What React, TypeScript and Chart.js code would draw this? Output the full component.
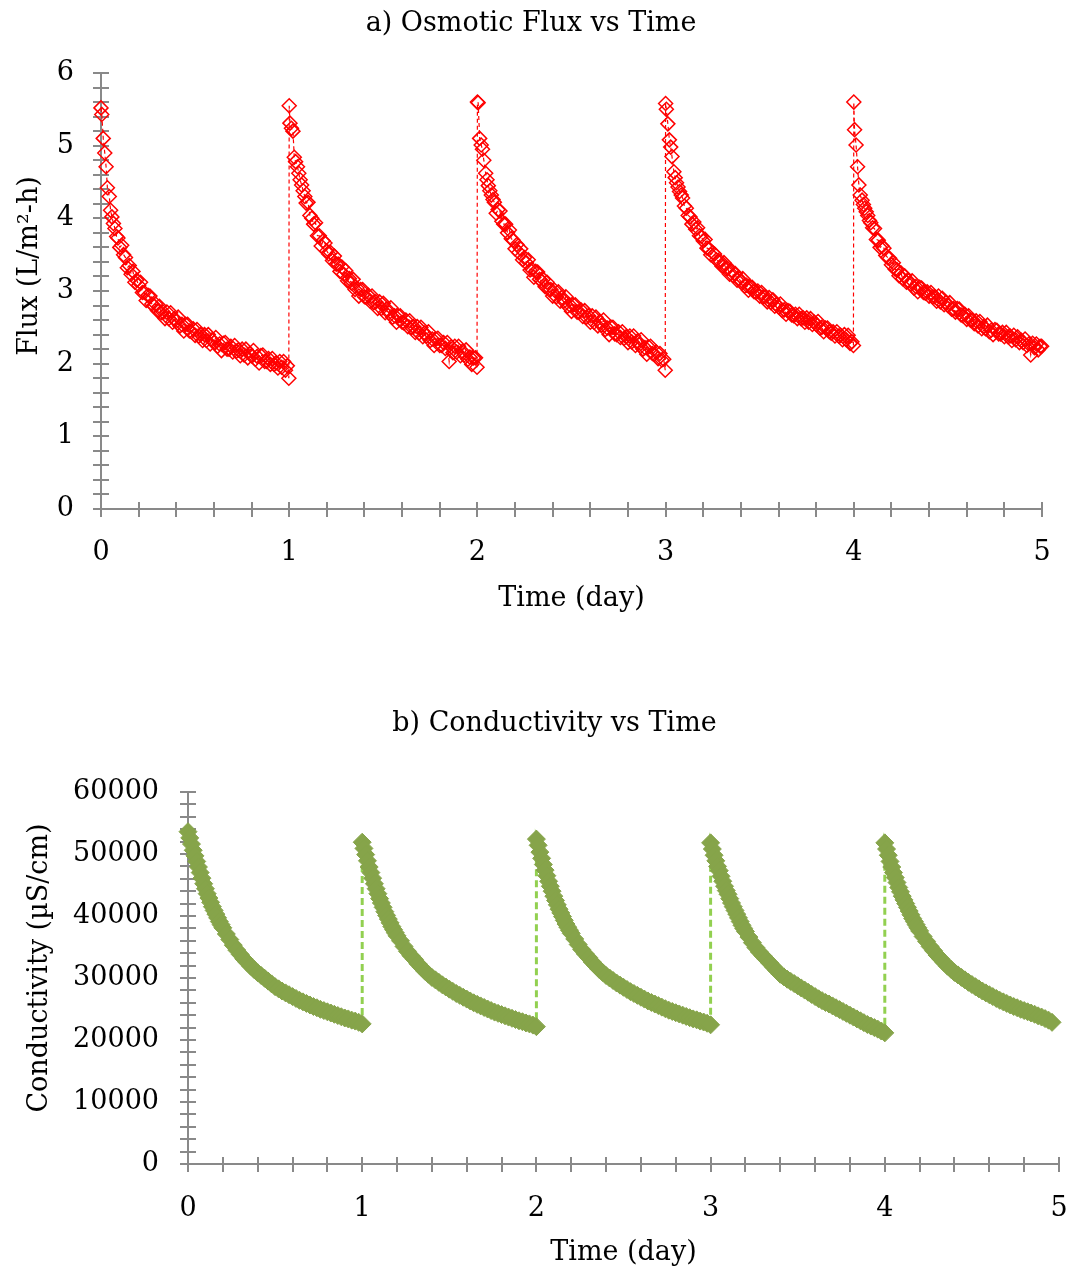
import { useEffect, useRef } from 'react';
import { Chart, registerables } from 'chart.js';

Chart.register(...registerables);

const FONT = "'DejaVu Serif', serif";
const AXIS_COLOR = '#898989';

// ---------- Chart a) Osmotic flux ----------
const fluxTitle = 'a) Osmotic Flux vs Time';
const fluxYTitle = 'Flux (L/m²-h)';
const xTitle = 'Time (day)';
const cycleStartDays = [0, 1, 2, 3, 4];

// sampling times inside each daily cycle (day)
const fluxLocalTimes = [
  0, 0.004, 0.012, 0.02, 0.027, 0.034, 0.044, 0.051, 0.058, 0.066, 0.074, 0.083,
  0.09, 0.1, 0.11, 0.12, 0.13, 0.14, 0.15, 0.16, 0.17, 0.18,
  0.19, 0.2, 0.21, 0.22, 0.23, 0.24, 0.25, 0.26, 0.27, 0.28,
  0.29, 0.3, 0.31, 0.32, 0.33, 0.34, 0.35, 0.36, 0.37, 0.38,
  0.39, 0.4, 0.41, 0.42, 0.43, 0.44, 0.45, 0.46, 0.47, 0.48,
  0.49, 0.5, 0.51, 0.52, 0.53, 0.54, 0.55, 0.56, 0.57, 0.58,
  0.59, 0.6, 0.61, 0.62, 0.63, 0.64, 0.65, 0.66, 0.67, 0.68,
  0.69, 0.7, 0.71, 0.72, 0.73, 0.74, 0.75, 0.76, 0.77, 0.78,
  0.79, 0.8, 0.81, 0.82, 0.83, 0.84, 0.85, 0.86, 0.87, 0.88,
  0.89, 0.9, 0.91, 0.92, 0.93, 0.94, 0.95, 0.96, 0.97, 0.98,
  0.99, 0.998,
];

const fluxDay1 = [
  5.52, 5.43, 5.10, 4.90, 4.71, 4.42, 4.30, 4.11, 4.02, 3.93, 3.86, 3.75,
  3.73, 3.60, 3.63, 3.50, 3.46, 3.32, 3.35, 3.23, 3.27, 3.12,
  3.15, 3.08, 3.12, 2.98, 2.98, 2.87, 2.94, 2.93, 2.82, 2.80,
  2.82, 2.73, 2.79, 2.70, 2.71, 2.62, 2.71, 2.62, 2.70, 2.57,
  2.62, 2.58, 2.64, 2.52, 2.54, 2.45, 2.54, 2.54, 2.45, 2.44,
  2.48, 2.39, 2.47, 2.38, 2.40, 2.32, 2.40, 2.32, 2.40, 2.27,
  2.33, 2.29, 2.36, 2.24, 2.27, 2.18, 2.28, 2.29, 2.20, 2.20,
  2.24, 2.16, 2.25, 2.17, 2.19, 2.11, 2.20, 2.12, 2.20, 2.08,
  2.14, 2.11, 2.18, 2.06, 2.10, 2.01, 2.11, 2.12, 2.03, 2.03,
  2.07, 1.99, 2.07, 1.99, 2.01, 1.94, 2.03, 1.95, 2.03, 1.91,
  1.97, 1.80,
];
const fluxDay2 = [
  5.55, 5.31, 5.24, 5.20, 4.84, 4.78, 4.71, 4.62, 4.53, 4.46, 4.38, 4.30,
  4.21, 4.22, 4.04, 4.00, 3.92, 3.94, 3.76, 3.76, 3.62, 3.69,
  3.66, 3.55, 3.51, 3.53, 3.42, 3.48, 3.37, 3.37, 3.27, 3.33,
  3.23, 3.28, 3.14, 3.17, 3.11, 3.16, 3.02, 3.04, 2.93, 3.02,
  3.02, 2.92, 2.91, 2.94, 2.86, 2.93, 2.84, 2.85, 2.76, 2.85,
  2.76, 2.83, 2.70, 2.75, 2.70, 2.77, 2.64, 2.66, 2.57, 2.66,
  2.66, 2.57, 2.56, 2.60, 2.51, 2.59, 2.50, 2.51, 2.43, 2.51,
  2.42, 2.50, 2.37, 2.42, 2.38, 2.44, 2.32, 2.34, 2.25, 2.34,
  2.35, 2.25, 2.25, 2.29, 2.21, 2.29, 2.03, 2.23, 2.15, 2.24,
  2.16, 2.24, 2.11, 2.17, 2.12, 2.19, 2.06, 2.09, 1.99, 2.08,
  2.08, 1.95,
];
const fluxDay3 = [
  5.60, 5.59, 5.10, 5.01, 4.95, 4.80, 4.62, 4.53, 4.45, 4.38, 4.32, 4.26,
  4.22, 4.07, 4.12, 4.10, 3.96, 3.92, 3.92, 3.80, 3.84, 3.72,
  3.70, 3.58, 3.64, 3.53, 3.58, 3.43, 3.46, 3.39, 3.43, 3.29,
  3.30, 3.19, 3.27, 3.26, 3.16, 3.14, 3.16, 3.06, 3.12, 3.02,
  3.02, 2.93, 3.01, 2.92, 2.99, 2.86, 2.91, 2.86, 2.92, 2.79,
  2.81, 2.72, 2.81, 2.81, 2.71, 2.71, 2.74, 2.65, 2.73, 2.64,
  2.66, 2.57, 2.66, 2.57, 2.64, 2.52, 2.58, 2.53, 2.60, 2.47,
  2.49, 2.40, 2.50, 2.50, 2.41, 2.40, 2.44, 2.36, 2.44, 2.35,
  2.37, 2.29, 2.38, 2.30, 2.38, 2.25, 2.31, 2.26, 2.33, 2.20,
  2.22, 2.13, 2.23, 2.24, 2.14, 2.13, 2.16, 2.07, 2.14, 2.05,
  2.06, 1.91,
];
const fluxDay4 = [
  5.58, 5.50, 5.30, 5.08, 4.98, 4.85, 4.64, 4.56, 4.49, 4.43, 4.37, 4.32,
  4.28, 4.17, 4.14, 4.04, 4.02, 3.92, 3.95, 3.85, 3.87, 3.76,
  3.75, 3.69, 3.71, 3.59, 3.58, 3.50, 3.53, 3.51, 3.43, 3.41,
  3.41, 3.34, 3.39, 3.31, 3.31, 3.23, 3.28, 3.21, 3.24, 3.15,
  3.17, 3.13, 3.17, 3.07, 3.08, 3.01, 3.06, 3.05, 2.99, 2.98,
  3.00, 2.93, 2.98, 2.92, 2.92, 2.85, 2.91, 2.84, 2.88, 2.79,
  2.81, 2.78, 2.82, 2.73, 2.74, 2.68, 2.73, 2.72, 2.67, 2.66,
  2.68, 2.62, 2.68, 2.62, 2.63, 2.57, 2.63, 2.57, 2.62, 2.54,
  2.57, 2.54, 2.58, 2.49, 2.50, 2.44, 2.49, 2.49, 2.44, 2.42,
  2.44, 2.38, 2.44, 2.38, 2.39, 2.33, 2.40, 2.33, 2.39, 2.28,
  2.30, 2.25,
];
const fluxDay5 = [
  5.60, 5.22, 5.01, 4.71, 4.46, 4.32, 4.25, 4.19, 4.14, 4.09, 4.04, 3.97,
  3.94, 3.87, 3.86, 3.71, 3.70, 3.60, 3.62, 3.59, 3.49, 3.46,
  3.45, 3.36, 3.39, 3.30, 3.29, 3.21, 3.25, 3.17, 3.21, 3.12,
  3.14, 3.10, 3.14, 3.04, 3.06, 2.99, 3.05, 3.04, 2.98, 2.97,
  2.99, 2.93, 2.98, 2.92, 2.92, 2.86, 2.93, 2.85, 2.90, 2.81,
  2.84, 2.80, 2.84, 2.75, 2.76, 2.71, 2.76, 2.75, 2.67, 2.66,
  2.68, 2.61, 2.66, 2.60, 2.60, 2.55, 2.59, 2.52, 2.58, 2.48,
  2.51, 2.48, 2.53, 2.44, 2.46, 2.40, 2.47, 2.46, 2.41, 2.41,
  2.43, 2.37, 2.43, 2.37, 2.38, 2.32, 2.39, 2.33, 2.37, 2.29,
  2.32, 2.29, 2.34, 2.25, 2.27, 2.12, 2.28, 2.22, 2.27, 2.19,
  2.24, 2.24,
];

// ---------- Chart b) Conductivity ----------
const condTitle = 'b) Conductivity vs Time';
const condYTitle = 'Conductivity (µS/cm)';

const condLocalTimes = [
  0, 0.01, 0.02, 0.03, 0.04, 0.05, 0.06, 0.07, 0.08, 0.09, 0.1,
  0.11, 0.12, 0.13, 0.14, 0.15, 0.16, 0.17, 0.18, 0.19, 0.2,
  0.22, 0.24, 0.26, 0.28, 0.3, 0.32, 0.34, 0.36, 0.38, 0.4,
  0.42, 0.44, 0.46, 0.48, 0.5, 0.52, 0.54, 0.56, 0.58, 0.6,
  0.62, 0.64, 0.66, 0.68, 0.7, 0.72, 0.74, 0.76, 0.78, 0.8,
  0.82, 0.84, 0.86, 0.88, 0.9, 0.92, 0.94, 0.96, 0.98, 1.0,
];

const condDay1 = [
  53600, 52600, 51600, 50600, 49700, 48800, 47900, 47000, 46100, 45200, 44400,
  43600, 42900, 42200, 41500, 40900, 40300, 39700, 39100, 38600, 38100,
  37100, 36200, 35300, 34500, 33800, 33100, 32500, 31900, 31350, 30850,
  30400, 29950, 29500, 29050, 28600, 28250, 27900, 27600, 27300, 27000,
  26700, 26400, 26150, 25900, 25650, 25400, 25200, 24950, 24750, 24550,
  24350, 24150, 23950, 23750, 23550, 23400, 23200, 23050, 22850, 22600,
];
const condDay2 = [
  51900, 50900, 49900, 48900, 47900, 47000, 46100, 45200, 44400, 43600, 42800,
  42100, 41400, 40700, 40100, 39500, 38900, 38300, 37800, 37300, 36800,
  36000, 35100, 34300, 33600, 33000, 32300, 31700, 31100, 30600, 30100,
  29700, 29300, 28900, 28550, 28200, 27850, 27500, 27200, 26900, 26600,
  26300, 26000, 25750, 25500, 25250, 25000, 24750, 24500, 24300, 24100,
  23900, 23700, 23500, 23300, 23100, 22950, 22750, 22600, 22400, 22150,
];
const condDay3 = [
  52400, 51400, 50300, 49300, 48300, 47400, 46500, 45600, 44800, 44000, 43200,
  42500, 41800, 41100, 40500, 39900, 39300, 38700, 38200, 37700, 37200,
  36300, 35400, 34600, 33900, 33300, 32600, 32000, 31400, 30900, 30400,
  30000, 29600, 29200, 28850, 28500, 28150, 27800, 27500, 27200, 26900,
  26600, 26300, 26050, 25800, 25550, 25300, 25050, 24800, 24600, 24400,
  24200, 24000, 23800, 23600, 23400, 23250, 23050, 22900, 22700, 22450,
];
const condDay4 = [
  51800, 50800, 49800, 48900, 48000, 47300, 46400, 45600, 44800, 44100, 43500,
  42800, 42100, 41500, 40900, 40300, 39700, 39100, 38500, 38000, 37500,
  36600, 35700, 34900, 34200, 33600, 33000, 32400, 31800, 31200, 30600,
  30200, 29800, 29450, 29100, 28750, 28400, 28050, 27700, 27350, 27000,
  26650, 26350, 26050, 25800, 25500, 25200, 24900, 24600, 24300, 24000,
  23700, 23400, 23100, 22800, 22500, 22250, 22000, 21750, 21450, 21150,
];
const condDay5 = [
  51800, 50800, 49800, 48800, 47900, 47000, 46200, 45400, 44600, 43900, 43200,
  42600, 42000, 41400, 40800, 40200, 39600, 39100, 38600, 38100, 37600,
  36700, 35900, 35100, 34400, 33700, 33100, 32500, 31900, 31400, 30900,
  30500, 30100, 29700, 29300, 28950, 28600, 28250, 27900, 27600, 27300,
  27000, 26700, 26400, 26150, 25900, 25650, 25400, 25200, 24950, 24750,
  24550, 24350, 24150, 23900, 23700, 23450, 23200, 22850,
];

const fluxCycles = [fluxDay1, fluxDay2, fluxDay3, fluxDay4, fluxDay5];
const condCycles = [condDay1, condDay2, condDay3, condDay4, condDay5];

function buildPoints(cycles: number[][], localTimes: number[]) {
  const pts: { x: number; y: number }[] = [];
  cycles.forEach((vals, c) => {
    vals.forEach((v, i) => pts.push({ x: cycleStartDays[c] + localTimes[i], y: v }));
  });
  return pts;
}

const crossTicksPlugin = {
  id: 'crossTicks',
  beforeDatasetsDraw(chart: any) {
    const { ctx, scales } = chart;
    const xs = scales.x;
    const ys = scales.y;
    const x0 = Math.round(xs.getPixelForValue(xs.min));
    const x1 = Math.round(xs.getPixelForValue(xs.max));
    const y0 = Math.round(ys.getPixelForValue(ys.min));
    const y1 = Math.round(ys.getPixelForValue(ys.max));
    ctx.save();
    ctx.strokeStyle = AXIS_COLOR;
    ctx.lineWidth = 2;
    ctx.beginPath();
    ctx.moveTo(x0, y1);
    ctx.lineTo(x0, y0);
    ctx.moveTo(x0, y0);
    ctx.lineTo(x1, y0);
    xs.ticks.forEach((t: any) => {
      const px = Math.round(xs.getPixelForValue(t.value));
      ctx.moveTo(px, y0 - 7);
      ctx.lineTo(px, y0 + 8);
    });
    ys.ticks.forEach((t: any) => {
      const py = Math.round(ys.getPixelForValue(t.value));
      ctx.moveTo(x0 - 8, py);
      ctx.lineTo(x0 + 8, py);
    });
    ctx.stroke();
    ctx.restore();
  },
};

const yTitlePlugin = {
  id: 'yTitle',
  afterDraw(chart: any, _args: any, opts: any) {
    const ctx = chart.ctx;
    ctx.save();
    ctx.translate(opts.x, opts.y);
    ctx.rotate(-Math.PI / 2);
    ctx.font = `27px ${FONT}`;
    ctx.fillStyle = '#000';
    ctx.textAlign = 'center';
    ctx.textBaseline = 'middle';
    ctx.fillText(opts.text, 0, 0);
    ctx.restore();
  },
};

function isWhole(v: number) {
  return Math.abs(v - Math.round(v)) < 1e-6;
}

function makeConfig(p: {
  title: string;
  titlePad: { top: number; bottom: number };
  points: { x: number; y: number }[];
  yMax: number;
  yStep: number;
  yMajor: number;
  yAxisWidth: number;
  xAxisHeight: number;
  layoutPad: { left: number; right: number };
  yLabelGap: number;
  xLabelGap: number;
  xTitlePadBottom: number;
  yTitle: { text: string; x: number; y: number };
  dataset: any;
}): any {
  return {
    type: 'scatter',
    data: {
      datasets: [{ data: p.points, showLine: true, clip: false, ...p.dataset }],
    },
    plugins: [crossTicksPlugin, yTitlePlugin],
    options: {
      responsive: false,
      animation: false,
      devicePixelRatio: 1,
      events: [],
      layout: { padding: { top: 0, bottom: 0, left: p.layoutPad.left, right: p.layoutPad.right } },
      plugins: {
        legend: { display: false },
        tooltip: { enabled: false },
        title: {
          display: true,
          text: p.title,
          color: '#000',
          font: { family: FONT, size: 27, weight: 'normal' },
          padding: p.titlePad,
        },
        yTitle: p.yTitle,
      },
      scales: {
        x: {
          type: 'linear',
          min: 0,
          max: 5,
          grid: { display: false, drawTicks: true, tickLength: p.xLabelGap },
          border: { display: false },
          afterFit: (s: any) => { s.height = p.xAxisHeight; },
          ticks: {
            stepSize: 0.2,
            autoSkip: false,
            maxRotation: 0,
            padding: 0,
            color: '#000',
            font: { family: FONT, size: 27 },
            callback: (v: any) => (isWhole(Number(v)) ? String(Math.round(Number(v))) : ''),
          },
          title: {
            display: true,
            text: xTitle,
            color: '#000',
            font: { family: FONT, size: 27 },
            padding: { top: 0, bottom: p.xTitlePadBottom },
          },
        },
        y: {
          type: 'linear',
          min: 0,
          max: p.yMax,
          grid: { display: false, drawTicks: true, tickLength: p.yLabelGap },
          border: { display: false },
          afterFit: (s: any) => { s.width = p.yAxisWidth; },
          ticks: {
            stepSize: p.yStep,
            autoSkip: false,
            padding: 0,
            color: '#000',
            font: { family: FONT, size: 27 },
            callback: (v: any) => {
              const n = Number(v);
              return Math.abs(n / p.yMajor - Math.round(n / p.yMajor)) < 1e-6 ? String(Math.round(n)) : '';
            },
          },
        },
      },
    },
  };
}

export default function App() {
  const ref1 = useRef<HTMLCanvasElement>(null);
  const ref2 = useRef<HTMLCanvasElement>(null);

  useEffect(() => {
    const fluxConfig = makeConfig({
      title: fluxTitle,
      titlePad: { top: 7.5, bottom: 33.1 },
      points: buildPoints(fluxCycles, fluxLocalTimes),
      yMax: 6,
      yStep: 0.2,
      yMajor: 1,
      yAxisWidth: 81,
      xAxisHeight: 131,
      layoutPad: { left: 20, right: 31 },
      yLabelGap: 27,
      xLabelGap: 28,
      xTitlePadBottom: 24.8,
      yTitle: { text: fluxYTitle, x: 30, y: 266 },
      dataset: {
        borderColor: '#FF0000',
        borderWidth: 1.2,
        borderDash: [4, 3],
        pointStyle: 'rectRot',
        pointRadius: 7,
        pointBorderWidth: 1.5,
        pointBorderColor: '#FF0000',
        pointBackgroundColor: 'rgba(0,0,0,0)',
      },
    });
    const condConfig = makeConfig({
      title: condTitle,
      titlePad: { top: 67.5, bottom: 52.1 },
      points: buildPoints(condCycles, condLocalTimes),
      yMax: 60000,
      yStep: 2000,
      yMajor: 10000,
      yAxisWidth: 138,
      xAxisHeight: 106,
      layoutPad: { left: 50, right: 14 },
      yLabelGap: 29,
      xLabelGap: 29,
      xTitlePadBottom: 0.8,
      yTitle: { text: condYTitle, x: 40, y: 328 },
      dataset: {
        borderColor: '#92D050',
        borderWidth: 3,
        borderDash: [7, 4],
        pointStyle: 'rectRot',
        pointRadius: 9,
        pointBorderWidth: 1,
        pointBorderColor: '#86A44A',
        pointBackgroundColor: '#86A44A',
      },
    });
    const c1 = new Chart(ref1.current as HTMLCanvasElement, fluxConfig);
    const c2 = new Chart(ref2.current as HTMLCanvasElement, condConfig);
    return () => {
      c1.destroy();
      c2.destroy();
    };
  }, []);

  return (
    <div style={{ position: 'absolute', left: 0, top: 0, width: 1073, height: 1270, background: '#ffffff' }}>
      <canvas ref={ref1} width={1073} height={640} style={{ position: 'absolute', left: 0, top: 0, width: 1073, height: 640 }} />
      <canvas ref={ref2} width={1073} height={630} style={{ position: 'absolute', left: 0, top: 640, width: 1073, height: 630 }} />
    </div>
  );
}
